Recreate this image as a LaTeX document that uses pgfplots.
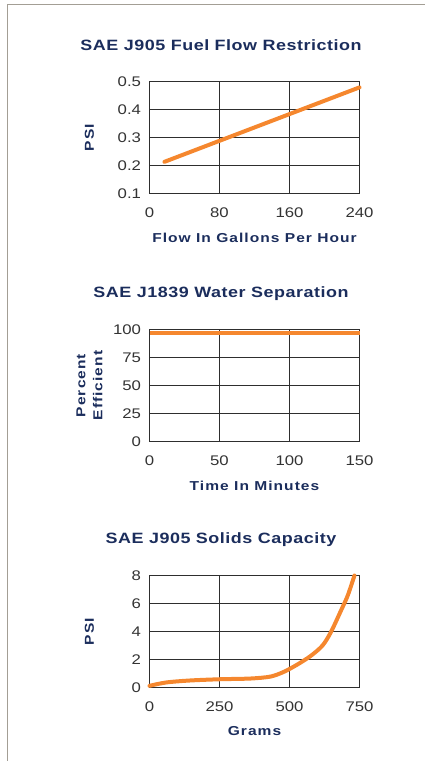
\documentclass[border=0pt]{standalone}
\usepackage{fontspec}
\setmainfont{Liberation Sans}[FakeStretch=1.2]
\newfontfamily\titlefont{Liberation Sans}[FakeStretch=1.2,LetterSpace=3.5]
\newfontfamily\labelfont{Liberation Sans}[FakeStretch=1.2,LetterSpace=8]
\usepackage{pgfplots}
\pgfplotsset{compat=1.18}
\definecolor{navy}{HTML}{1B2D5C}
\definecolor{orng}{HTML}{F5872E}
\definecolor{gridc}{HTML}{2E2E2E}
\definecolor{tickc}{HTML}{333333}
\definecolor{framec}{HTML}{A39E95}
\pgfplotsset{
  panel/.style={
    scale only axis, width=210bp, height=112bp,
    anchor=south west,
    axis line style={gridc, line width=1.8bp},
    grid=major, major grid style={gridc, line width=1.8bp},
    major tick length=0pt,
    tick label style={font=\fontsize{14}{16}\selectfont, text=tickc},
    /pgf/number format/assume math mode=true,
    yticklabel style={xshift=-5bp},
    xticklabel style={yshift=-10.5bp},
    clip=false,
    title style={font=\titlefont\bfseries\fontsize{15}{18}\selectfont, text=navy,
      at={(axis description cs:0.5,1)}, anchor=center, xshift=-33.5bp, yshift=30bp},
    every axis x label/.style={at={(axis description cs:0.5,0)}, anchor=center,
      yshift=-44bp, font=\labelfont\bfseries\fontsize{13}{16}\selectfont, text=navy},
    every axis y label/.style={at={(axis description cs:0,0.5)}, anchor=center,
      xshift=-60bp, rotate=90, align=center,
      font=\labelfont\bfseries\fontsize{13}{17}\selectfont, text=navy},
  },
  dataline/.style={orng, line width=4bp, line cap=round, line join=round},
}
\begin{document}
\begin{tikzpicture}
\useasboundingbox (0,0) rectangle (425bp,761bp);
\draw[framec, line width=1.3bp] (7.5bp,0) -- (7.5bp,756.5bp) -- (425bp,756.5bp);

\begin{axis}[panel, at={(149.5bp,567.5bp)},
  title={SAE J905 Fuel Flow Restriction},
  xlabel={Flow In Gallons Per Hour}, ylabel={PSI},
  xmin=0, xmax=240, ymin=0.1, ymax=0.5,
  xtick={0,80,160,240}, ytick={0.1,0.2,0.3,0.4,0.5},
  yticklabel style={/pgf/number format/fixed, /pgf/number format/precision=1}]
\addplot[dataline] coordinates {(17,0.213) (240,0.479)};
\end{axis}

\begin{axis}[panel, at={(149.5bp,319.5bp)},
  title={SAE J1839 Water Separation},
  xlabel={Time In Minutes}, ylabel={Percent\\Efficient},
  xmin=0, xmax=150, ymin=0, ymax=100,
  xtick={0,50,100,150}, ytick={0,25,50,75,100}]
\addplot[dataline, line cap=butt] coordinates {(0,96.5) (150,96.5)};
\end{axis}

\begin{axis}[panel, at={(149.5bp,73.5bp)},
  title={SAE J905 Solids Capacity},
  xlabel={Grams}, ylabel={PSI},
  xmin=0, xmax=750, ymin=0, ymax=8,
  xtick={0,250,500,750}, ytick={0,2,4,6,8}]
\addplot[dataline, smooth, tension=0.5] coordinates {
(0,0.12) (60,0.36) (144,0.5) (252,0.59) (360,0.64) (432,0.78) (480,1.12)
(528,1.64) (576,2.26) (618,3.0) (648,3.96) (684,5.5) (708,6.57) (732,8.0)};
\end{axis}
\end{tikzpicture}
\end{document}
